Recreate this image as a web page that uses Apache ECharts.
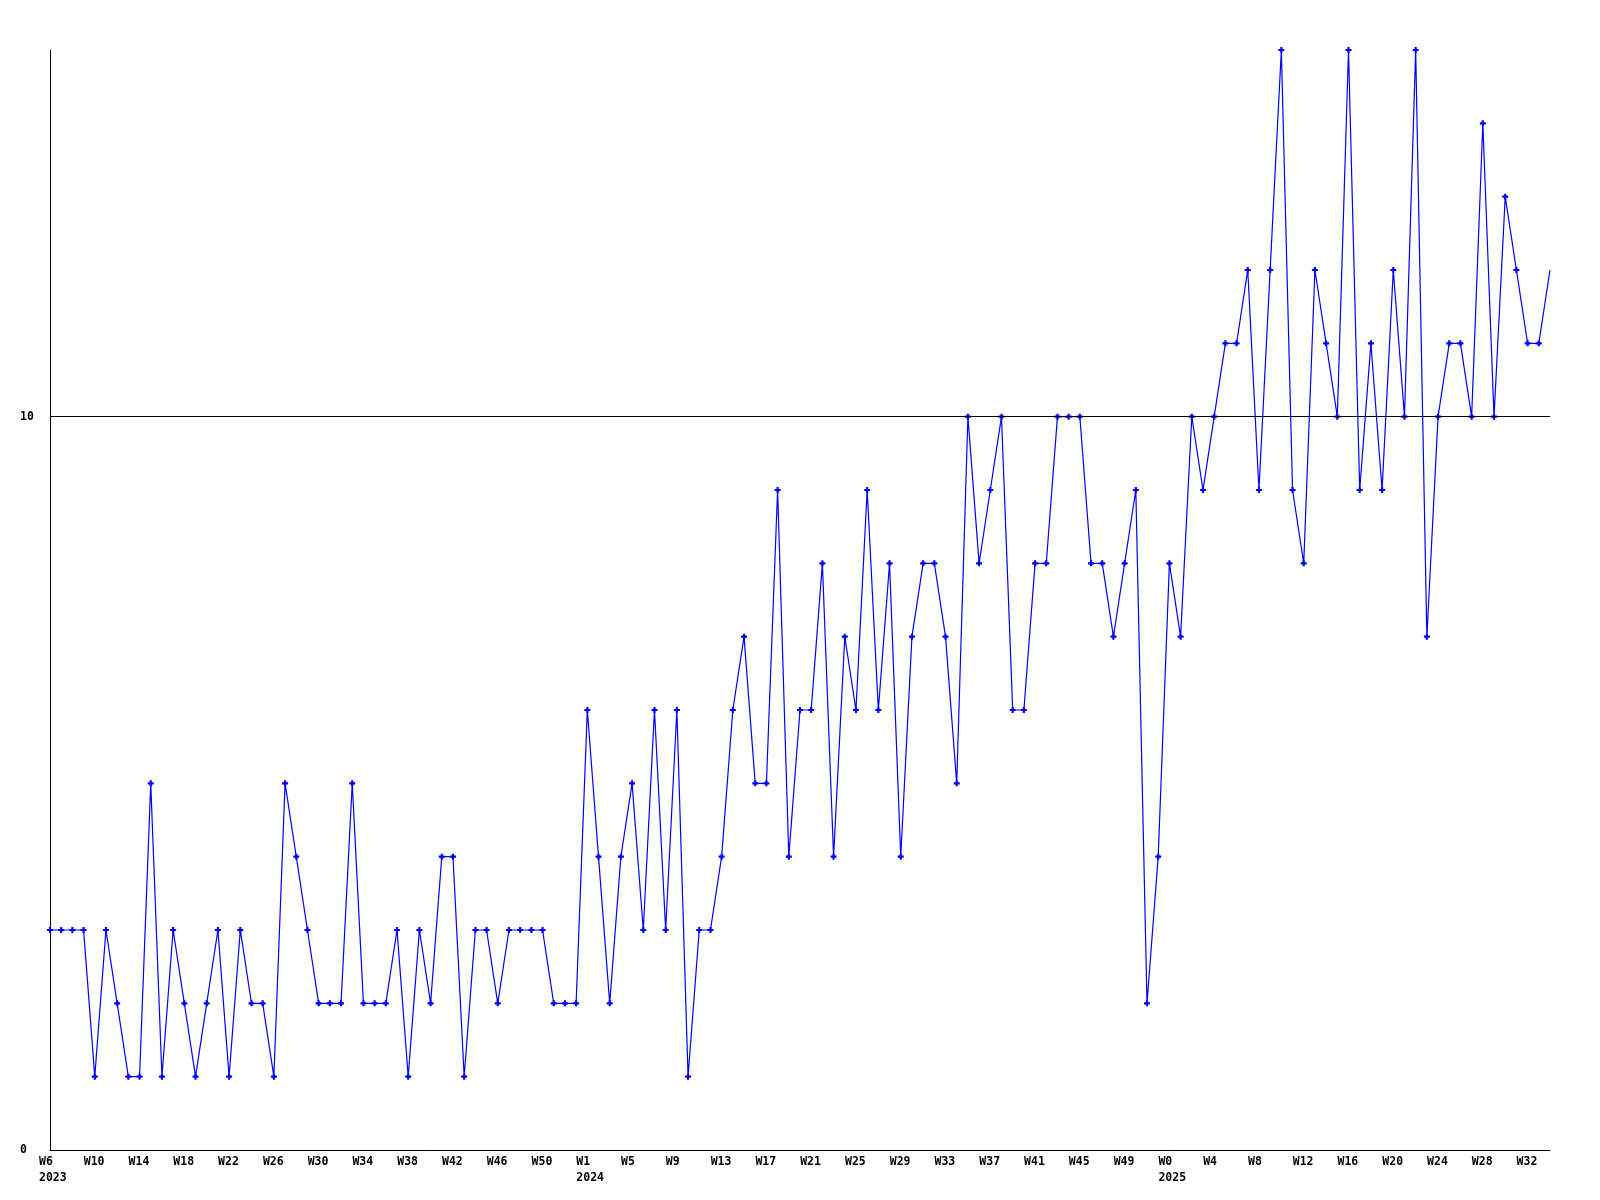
<!DOCTYPE html>
<html>
<head>
<meta charset="utf-8">
<script src="https://cdn.jsdelivr.net/npm/echarts@6/dist/echarts.min.js"></script>
<style>
  html, body { margin: 0; padding: 0; background: #ffffff; }
  #chart { width: 1600px; height: 1200px; }
</style>
</head>
<body>
<div id="chart"></div>
<script>
// Week labels (one per data point)
const weekLabels = [
  "W6","W7","W8","W9","W10","W11","W12","W13","W14","W15","W16","W17","W18","W19","W20","W21","W22","W23","W24","W25",
  "W26","W27","W28","W29","W30","W31","W32","W33","W34","W35","W36","W37","W38","W39","W40","W41","W42","W43","W44","W45",
  "W46","W47","W48","W49","W50","W51","W52","W53",
  "W1","W2","W3","W4","W5","W6","W7","W8","W9","W10","W11","W12","W13","W14","W15","W16","W17","W18","W19","W20",
  "W21","W22","W23","W24","W25","W26","W27","W28","W29","W30","W31","W32","W33","W34","W35","W36","W37","W38","W39","W40",
  "W41","W42","W43","W44","W45","W46","W47","W48","W49","W50","W51","W52",
  "W0","W1","W2","W3","W4","W5","W6","W7","W8","W9","W10","W11","W12","W13","W14","W15","W16","W17","W18","W19",
  "W20","W21","W22","W23","W24","W25","W26","W27","W28","W29","W30","W31","W32","W33","W34"
];
// Year shown under the first labelled week of each year
const yearStarts = { 0: "2023", 48: "2024", 100: "2025" };

// Weekly values
const values = [
  3,3,3,3,1,3,2,1,1,5,
  1,3,2,1,2,3,1,3,2,2,
  1,5,4,3,2,2,2,5,2,2,
  2,3,1,3,2,4,4,1,3,3,
  2,3,3,3,3,2,2,2,6,4,
  2,4,5,3,6,3,6,1,3,3,
  4,6,7,5,5,9,4,6,6,8,
  4,7,6,9,6,8,4,7,8,8,
  7,5,10,8,9,10,6,6,8,8,
  10,10,10,8,8,7,8,9,2,4,
  8,7,10,9,10,11,11,12,9,12,
  15,9,8,12,11,10,15,9,11,9,
  12,10,15,7,10,11,11,10,14,10,
  13,12,11,11,12
];

const yMin = 0, yMax = 15, yInterval = 10;
const refLineValue = 10;

const FONT = '"DejaVu Sans Mono", "Liberation Mono", monospace';
const plusPath = 'path://M1.6,0H3.4V1.6H5V3.4H3.4V5H1.6V3.4H0V1.6H1.6Z';

const chart = echarts.init(document.getElementById('chart'), null, { renderer: 'canvas' });
chart.setOption({
  animation: false,
  backgroundColor: '#ffffff',
  grid: { left: 50, right: 50, top: 50, bottom: 50, containLabel: false },
  xAxis: {
    type: 'category',
    data: weekLabels,
    boundaryGap: false,
    axisLine: { show: true, lineStyle: { color: '#000000', width: 1 } },
    axisTick: { show: false },
    splitLine: { show: false },
    axisLabel: {
      interval: 3,
      margin: 4,
      color: '#000000',
      fontFamily: FONT,
      fontWeight: 'bold',
      fontSize: 11.5,
      lineHeight: 16,
      formatter: function (val, idx) {
        const y = yearStarts[idx];
        return y ? '{w|' + val + '}\n{w|' + y + '}' : '{w|' + val + '}';
      },
      rich: {
        w: {
          width: 22, align: 'left', color: '#000000',
          fontFamily: FONT, fontWeight: 'bold', fontSize: 11.5, lineHeight: 16
        }
      }
    }
  },
  yAxis: {
    type: 'value',
    min: yMin, max: yMax, interval: yInterval,
    axisLine: { show: true, lineStyle: { color: '#000000', width: 1 } },
    axisTick: { show: false },
    splitLine: { show: false },
    axisLabel: {
      showMaxLabel: false,
      align: 'left',
      margin: 30,
      color: '#000000',
      fontFamily: FONT,
      fontWeight: 'bold',
      fontSize: 11.5
    }
  },
  series: [{
    type: 'line',
    data: values,
    symbol: function (v, params) {
      return params.dataIndex === values.length - 1 ? 'none' : plusPath;
    },
    symbolSize: 6,
    showAllSymbol: true,
    itemStyle: { color: '#0000ff' },
    lineStyle: { color: '#0000ff', width: 1.2 },
    markLine: {
      silent: true,
      symbol: 'none',
      label: { show: false },
      lineStyle: { color: '#000000', type: 'solid', width: 1 },
      data: [{ yAxis: refLineValue }]
    }
  }]
});
</script>
</body>
</html>
